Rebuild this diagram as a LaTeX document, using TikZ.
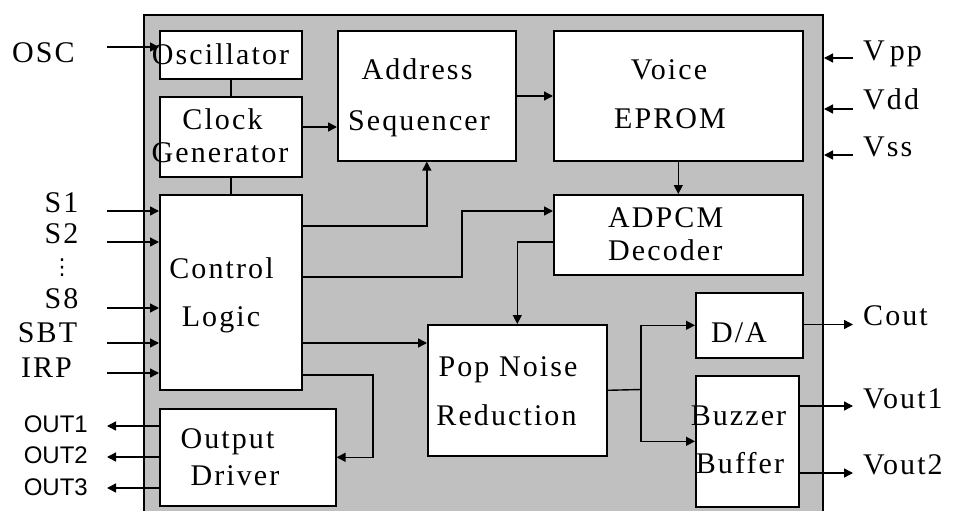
\documentclass[tikz,border=0pt]{standalone}
\usepackage{fontspec}
\setmainfont{Liberation Serif}[LetterSpace=7]
\newfontfamily\sansf{Liberation Sans}
\newfontfamily\dejavu{DejaVu Sans}
\usetikzlibrary{arrows.meta}
\definecolor{chipgrey}{RGB}{192,192,192}
\begin{document}
\begin{tikzpicture}[x=1pt,y=-1pt,
  chip/.style={draw=black, line width=2pt, fill=chipgrey, inner sep=0pt, anchor=north west},
  blk/.style={draw=black, line width=1.6pt, fill=white, inner sep=0pt, anchor=north west},
  txt/.style={font=\fontsize{30}{30}\selectfont, inner sep=0pt, anchor=base},
  otxt/.style={font=\sansf\fontsize{24}{24}\selectfont, inner sep=0pt, anchor=base east},
  wire/.style={line width=1.4pt},
  arr/.style={wire, -{Triangle[length=9pt,width=9pt]}},
]
\clip (0,0) rectangle (953,511);
\fill[white] (0,0) rectangle (953,511);
% chip body
\node[chip, minimum width=679pt, minimum height=560pt] (chip) at (143,14) {};
% blocks
\node[blk, minimum width=142pt, minimum height=48pt]  (osc) at (159,30) {};
\node[blk, minimum width=142pt, minimum height=80pt]  (clk) at (159,96) {};
\node[blk, minimum width=142pt, minimum height=195pt] (ctl) at (159,194) {};
\node[blk, minimum width=176pt, minimum height=97pt]  (drv) at (159,408) {};
\node[blk, minimum width=178pt, minimum height=130pt] (adr) at (337,30) {};
\node[blk, minimum width=249pt, minimum height=130pt] (rom) at (553,30) {};
\node[blk, minimum width=249pt, minimum height=80pt]  (dec) at (553,194) {};
\node[blk, minimum width=179pt, minimum height=131pt] (pop) at (427,324) {};
\node[blk, minimum width=107pt, minimum height=65pt]  (da)  at (695,292) {};
\node[blk, minimum width=103pt, minimum height=131pt] (buz) at (695,375) {};
% block texts
\node[txt] (tosc) at (220.5,64) {Oscillator};
\node[txt] (tclk1) at (222.5,129) {Clock};
\node[txt] (tclk2) at (220,162) {Generator};
\node[txt] (tadr1) at (417,79) {Address};
\node[txt] (tadr2) at (419,130) {Sequencer};
\node[txt] (trom1) at (669,79) {Voice};
\node[txt] (trom2) at (670,128) {EPROM};
\node[txt, anchor=base west] (tdec1) at (608,227) {ADPCM};
\node[txt, anchor=base west] (tdec2) at (608,260) {Decoder};
\node[txt] (tctl1) at (221.5,278) {Control};
\node[txt] (tctl2) at (221,326) {Logic};
\node[txt] (tdrv1) at (227.5,448) {Output};
\node[txt] (tdrv2) at (235,485) {Driver};
\node[txt] (tpop1) at (508,376) {Pop Noise};
\node[txt] (tpop2) at (506.5,425) {Reduction};
\node[txt] (tda) at (739,342) {D/A};
\node[txt] (tbuz1) at (738.5,425) {Buzzer};
\node[txt] (tbuz2) at (740,473) {Buffer};
% outside labels
\node[txt] (losc) at (43.5,63) {OSC};
\node[txt] (ls1) at (61.5,212) {S1};
\node[txt] (ls2) at (61.5,243) {S2};
\node[inner sep=0pt, font=\dejavu\fontsize{22}{22}\selectfont] (ldots) at (62,268) {⋮};
\node[txt] (ls8) at (61.5,308) {S8};
\node[txt] (lsbt) at (47.5,342) {SBT};
\node[txt] (lirp) at (46.5,377) {IRP};
\node[otxt] (lo1) at (88,432) {OUT1};
\node[otxt] (lo2) at (88,463) {OUT2};
\node[otxt] (lo3) at (88,495) {OUT3};
\node[txt, anchor=base west] (lvpp) at (863,60) {V\,pp};
\node[txt, anchor=base west] (lvdd) at (863,110) {Vdd};
\node[txt, anchor=base west] (lvss) at (863,156) {Vss};
\node[txt, anchor=base west] (lcout) at (863,325) {Cout};
\node[txt, anchor=base west] (lv1) at (863,408) {Vout1};
\node[txt, anchor=base west] (lv2) at (863,474) {Vout2};
% free ends
\coordinate (pOSC) at (107,47);
\coordinate (pS1) at (107,211);
\coordinate (pS2) at (107,242);
\coordinate (pS8) at (107,308);
\coordinate (pSBT) at (107,343);
\coordinate (pIRP) at (107,373);
\coordinate (pO1) at (107,426);
\coordinate (pO2) at (107,457);
\coordinate (pO3) at (107,488);
\coordinate (pVpp) at (853,58);
\coordinate (pVdd) at (853,109);
\coordinate (pVss) at (853,155);
\coordinate (pCout) at (853,324.5);
\coordinate (pV1) at (853,406);
\coordinate (pV2) at (853,473);
% helper levels
\coordinate (h127) at (0,127);
\coordinate (h96) at (0,96);
\coordinate (h226) at (0,226);
\coordinate (h277) at (0,277);
\coordinate (h211) at (0,211);
\coordinate (h242) at (0,242);
\coordinate (h343) at (0,343);
\coordinate (h375) at (0,375);
% inputs / outputs
\draw[arr] (pOSC) -- (pOSC -| osc.west);
\foreach \p in {pS1,pS2,pS8,pSBT,pIRP} \draw[arr] (\p) -- (\p -| ctl.west);
\foreach \p in {pO1,pO2,pO3} \draw[arr] (\p -| drv.west) -- (\p);
\foreach \p in {pVpp,pVdd,pVss} \draw[arr] (\p) -- (\p -| chip.east);
\draw[arr] (da.east |- pCout) -- (pCout);
\draw[arr] (pV1 -| buz.east) -- (pV1);
\draw[arr] (pV2 -| buz.east) -- (pV2);
% internal
\draw[wire] (osc.south) -- (clk.north);
\draw[wire] (clk.south) -- (ctl.north);
\draw[arr] (clk.east |- h127) -- (adr.west |- h127);
\draw[arr] (adr.east |- h96) -- (rom.west |- h96);
\draw[arr] (ctl.east |- h226) -| (adr.south);
\draw[arr] (ctl.east |- h277) -- (462,277) |- (dec.west |- h211);
\draw[arr] (dec.west |- h242) -| (pop.north);
\draw[arr] (rom.south) -- (dec.north);
\draw[arr] (ctl.east |- h343) -- (pop.west |- h343);
\draw[arr] (ctl.east |- h375) -- (373,375) |- (drv.east);
\draw[wire] (pop.east) -- (641,389.5) coordinate (split);
\draw[arr] (split) |- (da.west);
\draw[arr] (split) |- (buz.west);
\end{tikzpicture}
\end{document}
